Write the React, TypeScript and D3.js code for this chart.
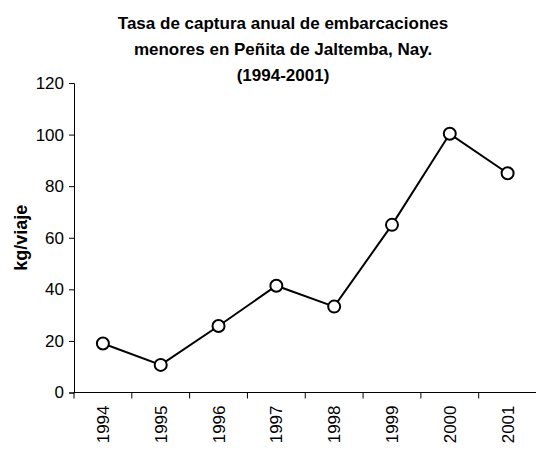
import React, { useRef, useEffect } from "react";
import * as d3 from "d3";

const years = ["1994", "1995", "1996", "1997", "1998", "1999", "2000", "2001"];
const catch_kg = [19, 10.7, 25.8, 41.4, 33.3, 65, 100.3, 85];
const yTicks = [0, 20, 40, 60, 80, 100, 120];
const titleLines = [
  "Tasa de captura anual de embarcaciones",
  "menores en Peñita de Jaltemba, Nay.",
  "(1994-2001)",
];

const FONT = "'Liberation Sans', Arial, sans-serif";

const App = () => {
  const svgRef = useRef<SVGSVGElement>(null);

  useEffect(() => {
    const width = 536;
    const height = 450;
    const margin = { top: 83, bottom: 57.5, left: 74, right: -0.5 };

    const svg = d3.select(svgRef.current);
    svg.selectAll("*").remove();

    const x = d3
      .scaleBand()
      .domain(years)
      .range([margin.left, width - margin.right]);

    const y = d3
      .scaleLinear()
      .domain([0, 120])
      .range([height - margin.bottom, margin.top]);

    // title
    svg
      .append("g")
      .selectAll("text")
      .data(titleLines)
      .join("text")
      .attr("x", 283)
      .attr("y", (d, i) => 29 + i * 26)
      .attr("text-anchor", "middle")
      .style("font-family", FONT)
      .style("font-size", "17px")
      .style("font-weight", "bold")
      .text((d) => d);

    // y axis
    const yAxis = svg
      .append("g")
      .attr("transform", `translate(${margin.left}, 0)`)
      .call(d3.axisLeft(y).tickValues(yTicks).tickSize(5).tickPadding(5));
    yAxis.select(".domain").attr("stroke", "#000").attr("stroke-width", 1);
    yAxis
      .selectAll("text")
      .style("font-family", FONT)
      .style("font-size", "17px")
      .attr("fill", "#000");

    // x axis: ticks between categories
    const xAxisG = svg
      .append("g")
      .attr("transform", `translate(0, ${y(0)})`);
    xAxisG
      .append("line")
      .attr("x1", margin.left)
      .attr("x2", width - margin.right)
      .attr("stroke", "#000");
    xAxisG
      .selectAll("line.tick")
      .data(years.concat(["end"]))
      .join("line")
      .attr("class", "tick")
      .attr("x1", (d, i) => margin.left + i * x.bandwidth())
      .attr("x2", (d, i) => margin.left + i * x.bandwidth())
      .attr("y1", 0)
      .attr("y2", 6)
      .attr("stroke", "#000");
    xAxisG
      .selectAll("text")
      .data(years)
      .join("text")
      .attr(
        "transform",
        (d) => `translate(${x(d)! + x.bandwidth() / 2 + 6}, 13) rotate(-90)`
      )
      .attr("text-anchor", "end")
      .style("font-family", FONT)
      .style("font-size", "17px")
      .text((d) => d);

    // y label
    svg
      .append("text")
      .attr("transform", `translate(27, ${y(60)}) rotate(-90)`)
      .attr("text-anchor", "middle")
      .style("font-family", FONT)
      .style("font-size", "18px")
      .style("font-weight", "bold")
      .text("kg/viaje");

    const line = d3
      .line<number>()
      .x((d, i) => x(years[i])! + x.bandwidth() / 2)
      .y((d) => y(d));

    svg
      .append("path")
      .datum(catch_kg)
      .attr("d", line)
      .attr("fill", "none")
      .attr("stroke", "#000")
      .attr("stroke-width", 2);

    svg
      .append("g")
      .selectAll("circle")
      .data(catch_kg)
      .join("circle")
      .attr("cx", (d, i) => x(years[i])! + x.bandwidth() / 2)
      .attr("cy", (d) => y(d))
      .attr("r", 6)
      .attr("fill", "#fff")
      .attr("stroke", "#000")
      .attr("stroke-width", 2);
  }, []);

  return (
    <div style={{ position: "absolute", left: 0, top: 0 }}>
      <svg ref={svgRef} width={536} height={450} style={{ display: "block", background: "#fff" }} />
    </div>
  );
};

export default App;
